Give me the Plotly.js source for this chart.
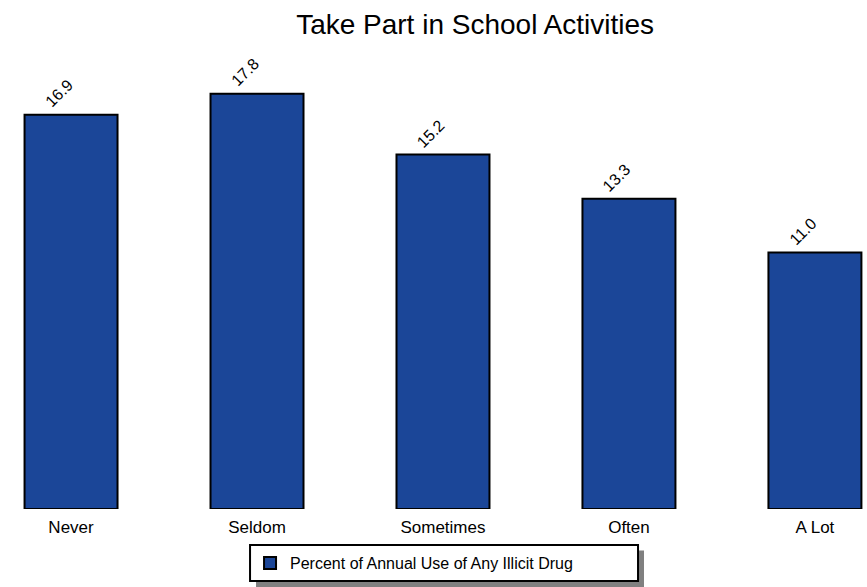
<!DOCTYPE html>
<html><head><meta charset="utf-8">
<script src="https://cdn.plot.ly/plotly-3.0.1.min.js"></script>
<style>html,body{margin:0;padding:0;background:#fff}</style>
</head><body>
<div id="chart" style="width:867px;height:587px"></div>
<script>
const categories = ["Never", "Seldom", "Sometimes", "Often", "A Lot"];
const values = [16.9, 17.8, 15.2, 13.3, 11.0];
const labels = ["16.9", "17.8", "15.2", "13.3", "11.0"];
const seriesName = "Percent of Annual Use of Any Illicit Drug";

const FONT = "Liberation Sans, Arial, sans-serif";

const trace = {
  type: "bar",
  x: categories,
  y: values,
  name: seriesName,
  marker: {color: "#1B4698", line: {color: "#000", width: 2}},
  width: 0.5,
  showlegend: true,
  hoverinfo: "none"
};

const annotations = categories.map((c, i) => ({
  x: c, y: values[i], xref: "x", yref: "y",
  text: labels[i], showarrow: false, textangle: -45,
  xanchor: "center", yanchor: "middle", xshift: -12, yshift: 21,
  font: {family: FONT, size: 16, color: "#000"}
}));

const layout = {
  width: 867, height: 587,
  margin: {l: 0, r: 0, t: 60, b: 78},
  paper_bgcolor: "#fff", plot_bgcolor: "#fff",
  font: {family: FONT, color: "#000"},
  title: {text: "Take Part in School Activities", x: 0.548, xanchor: "center", y: 0.959, yanchor: "middle",
          font: {size: 28, color: "#000"}},
  xaxis: {range: [-0.382, 4.28], showgrid: false, zeroline: false, showline: false,
          ticks: "", ticklabelstandoff: 6, tickfont: {size: 17, color: "#000"}},
  yaxis: {range: [0, 19.25], visible: false},
  showlegend: true,
  legend: {orientation: "h", x: 0.2884, xanchor: "left", y: -0.1203, yanchor: "middle",
           borderwidth: 0, bgcolor: "rgba(0,0,0,0)",
           font: {size: 16, color: "#000"}},
  annotations: annotations,
  shapes: [
    {type: "rect", xref: "paper", yref: "paper", layer: "above",
     x0: 0.2953, x1: 0.7428, y0: -0.1759, y1: -0.0925,
     fillcolor: "#808080", line: {width: 0}},
    {type: "rect", xref: "paper", yref: "paper", layer: "above",
     x0: 0.2884, x1: 0.7359, y0: -0.1604, y1: -0.0802,
     fillcolor: "#fff", line: {color: "#000", width: 2}}
  ]
};

Plotly.newPlot("chart", [trace], layout, {displayModeBar: false, staticPlot: true});
</script>
</body></html>
